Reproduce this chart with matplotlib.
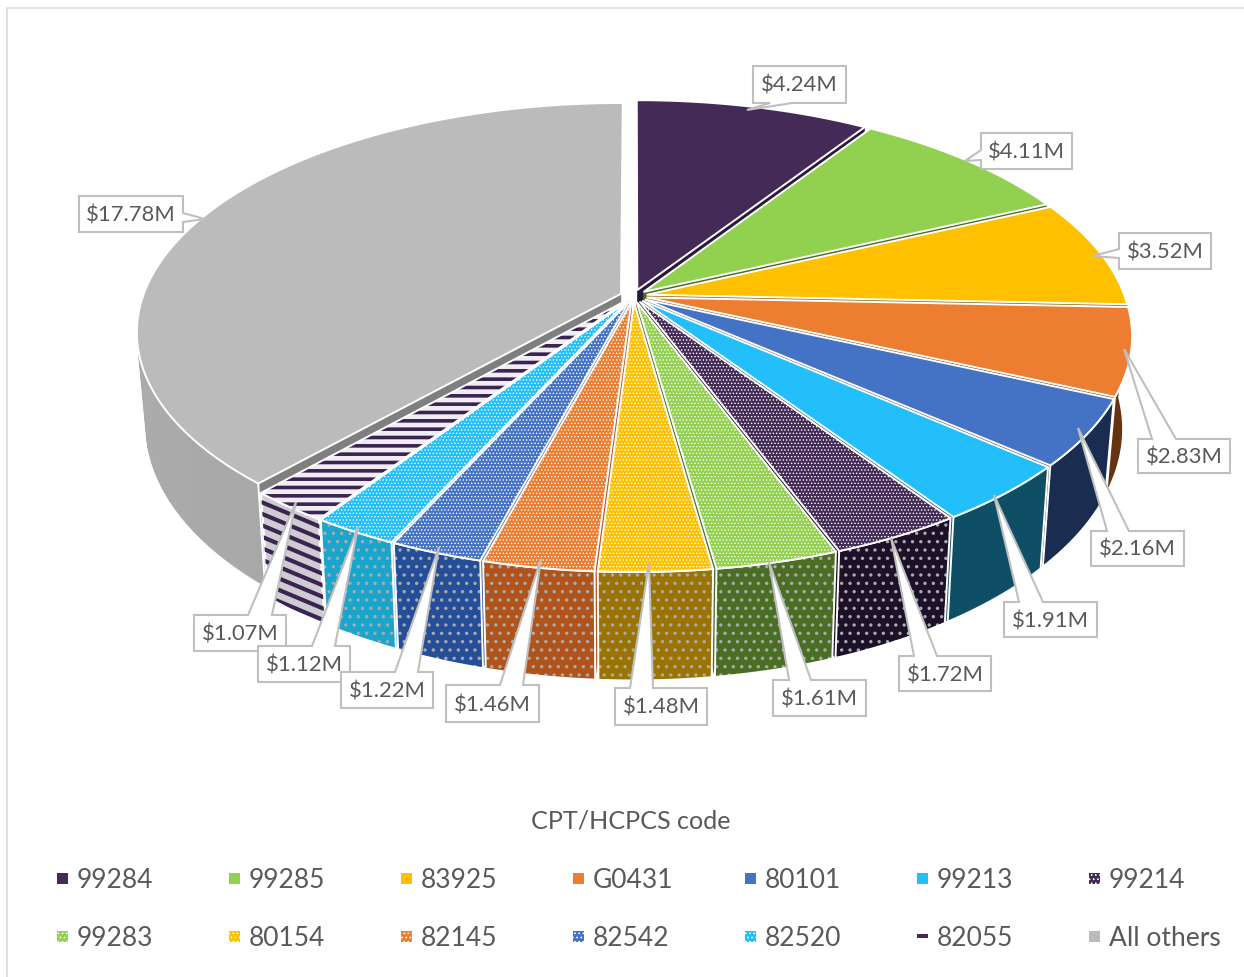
import matplotlib
matplotlib.use('Agg')
import matplotlib.pyplot as plt
from matplotlib.collections import LineCollection
from matplotlib.patches import Polygon, Rectangle
import numpy as np

plt.rcParams['font.family'] = ['Lato', 'DejaVu Sans']

# values in $M, clockwise from 12 o'clock
codes = ['99284', '99285', '83925', 'G0431', '80101', '99213', '99214',
         '99283', '80154', '82145', '82542', '82520', '82055', 'All others']
costs = [4.24, 4.11, 3.52, 2.83, 2.16, 1.91, 1.72, 1.61, 1.48, 1.46, 1.22, 1.12, 1.07, 17.78]
labels = ['$4.24M', '$4.11M', '$3.52M', '$2.83M', '$2.16M', '$1.91M', '$1.72M',
          '$1.61M', '$1.48M', '$1.46M', '$1.22M', '$1.12M', '$1.07M', '$17.78M']

top_colors = ['#442A57', '#92D050', '#FFC000', '#ED7D31', '#4472C4', '#22BFFB', '#442A57',
              '#92D050', '#FFC000', '#ED7D31', '#4472C4', '#22BFFB', '#F1ECF4', '#BBBBBB']
wall_colors = ['#2A1A38', '#4A6A26', '#8F6C00', '#63340F', '#1A2C50', '#0F4F66', '#1C1128',
               '#4B6E25', '#9A7300', '#B0541B', '#254E99', '#1AA5CC', '#CFCBD3', '#A8A8A8']
# hatch per slice
top_hatch = [None] * 6 + ['.....'] * 6 + ['--', None]
hatch_col = ['white'] * 12 + ['#3A2450', 'white']
wall_hatch = [None] * 6 + ['..'] * 6 + [None, None]
wall_hatch_col = ['#ABABAB'] * 12 + ['#3A2450', 'white']

# callout layout: box (x0, y0, x1, y1), side, base a, base b, tip (x, y)
callouts = [
    ((753, 66, 846, 103), 'bottom', 770, 792, (747, 110)),
    ((981, 133, 1072, 169), 'left', 150, 160, (965, 161)),
    ((1119, 233, 1211, 269), 'left', 249, 258, (1093, 256)),
    ((1138, 439, 1230, 473), 'top', 1152, 1176, (1124, 349)),
    ((1091, 531, 1184, 566), 'top', 1107, 1129, (1078, 428)),
    ((1004, 602, 1097, 637), 'top', 1019, 1043, (994, 495)),
    ((899, 656, 991, 691), 'top', 914, 937, (891, 538)),
    ((773, 680, 866, 716), 'top', 789, 811, (769, 562)),
    ((615, 688, 707, 725), 'top', 630, 653, (649, 563)),
    ((446, 685, 539, 722), 'top', 500, 523, (541, 559)),
    ((341, 672, 433, 708), 'top', 395, 418, (439, 547)),
    ((258, 646, 350, 682), 'top', 312, 335, (358, 527)),
    ((194, 615, 286, 651), 'top', 248, 272, (296, 502)),
    ((79, 196, 183, 232), 'right', 213, 222, (205, 219)),
]
callout_order = [0, 1, 2, 3, 4, 5, 6, 7, 8, 9, 12, 11, 10, 13]

legend_x = [57, 229, 401, 573, 745, 917, 1089]
legend_y = [878, 936]

# perspective of the pie
CX, CY = 633.5, 296
RX, RY = 478, 223
K = 0.165
DEPTH = 90
EXPLODE = 0.028


class HatchPoly(Polygon):
    def __init__(self, *args, hatch_lw=0.6, **kwargs):
        self.hatch_lw = hatch_lw
        with matplotlib.rc_context({'hatch.linewidth': hatch_lw}):
            super().__init__(*args, **kwargs)

    def draw(self, renderer):
        with matplotlib.rc_context({'hatch.linewidth': self.hatch_lw}):
            super().draw(renderer)


def project(x, y, drop=0.0):
    s = 1 / (1 + K * y)
    shrink = 1 - 0.018 * (drop > 0)
    return np.column_stack([CX + RX * x * s * shrink, CY - RY * y * s + drop * s])


def shape(ax, pts, face, hatch=None, hcol='white', edge='white', lw=1.4, hatch_lw=0.6):
    if hatch:
        ax.add_patch(HatchPoly(pts, closed=True, facecolor=face, edgecolor=hcol, hatch=hatch,
                               linewidth=0, hatch_lw=hatch_lw))
        ax.add_patch(Polygon(pts, closed=True, facecolor='none', edgecolor=edge, linewidth=lw))
    else:
        ax.add_patch(Polygon(pts, closed=True, facecolor=face, edgecolor=edge, linewidth=lw))


def slanted_stripes(ax, wall):
    # the striped slice's wall has its lines running downhill, a hatch can't do that angle
    clip = Polygon(wall, closed=True, transform=ax.transData)
    x0, x1 = wall[:, 0].min(), wall[:, 0].max()
    y0, y1 = wall[:, 1].min() - 60, wall[:, 1].max() + 10
    segs = [[(x0, y), (x1, y + 0.42 * (x1 - x0))] for y in np.arange(y0, y1, 11.5)]
    lines = LineCollection(segs, colors='#3A2450', linewidths=3.0)
    ax.add_collection(lines)
    lines.set_clip_path(clip)


def draw_slice(ax, i, a0, a1):
    mid = (a0 + a1) / 2
    ox, oy = EXPLODE * np.sin(mid), EXPLODE * np.cos(mid)
    t = np.linspace(a0, a1, 80)
    ax_x, ax_y = np.sin(t) + ox, np.cos(t) + oy
    arc_top = project(ax_x, ax_y)
    arc_low = project(ax_x, ax_y, DEPTH)
    apex_top = project(np.array([ox]), np.array([oy]))
    apex_low = project(np.array([ox]), np.array([oy]), DEPTH)
    top_lw = 2.6 if i == 12 else 0.6
    wall_lw = 1.2

    def radial_walls():
        # seen through the gaps between slices; the ends at 12 o'clock have no width
        radial = wall_colors[i] if i != 13 else '#7F7F7F'
        for end in (0, -1):
            if (i == 0 and end == 0) or (i == 13 and end == -1):
                continue
            quad = np.vstack([apex_top, arc_top[end], arc_low[end], apex_low])
            shape(ax, quad, radial, edge=radial, lw=0.3)

    back_slice = np.cos(mid) > 0
    if not back_slice:
        radial_walls()

    # outer wall
    wall = np.vstack([arc_top, arc_low[::-1]])
    if codes[i] == 'All others':
        shades = np.linspace(0.66, 0.71, 79)
        for j in range(79):
            if ax_y[j] > -0.24:
                continue
            quad = np.vstack([arc_top[j], arc_top[j + 1], arc_low[j + 1], arc_low[j]])
            g = str(shades[j])
            ax.add_patch(Polygon(quad, closed=True, facecolor=g, edgecolor=g, linewidth=0.6))
        ax.plot([arc_top[0, 0], arc_low[0, 0]], [arc_top[0, 1], arc_low[0, 1]], color='white', lw=1.4)
    else:
        shape(ax, wall, wall_colors[i], wall_hatch[i], wall_hatch_col[i], lw=1.4, hatch_lw=wall_lw)
        if codes[i] == '82055':
            slanted_stripes(ax, wall)
            ax.add_patch(Polygon(wall, closed=True, facecolor='none', edgecolor='white', linewidth=1.4))

    if back_slice:
        radial_walls()

    # top face
    top = np.vstack([apex_top, arc_top])
    shape(ax, top, top_colors[i], top_hatch[i], hatch_col[i], lw=1.4, hatch_lw=top_lw)


def callout(ax, box, side, b0, b1, tip, text):
    x0, y0, x1, y1 = box
    if side == 'top':
        pts = [(x0, y0), (b0, y0), tip, (b1, y0), (x1, y0), (x1, y1), (x0, y1)]
    elif side == 'bottom':
        pts = [(x0, y0), (x1, y0), (x1, y1), (b1, y1), tip, (b0, y1), (x0, y1)]
    elif side == 'left':
        pts = [(x0, y0), (x1, y0), (x1, y1), (x0, y1), (x0, b1), tip, (x0, b0)]
    else:
        pts = [(x0, y0), (x1, y0), (x1, b0), tip, (x1, b1), (x1, y1), (x0, y1)]
    ax.add_patch(Polygon(pts, closed=True, facecolor='white', edgecolor='#BFBFBF',
                         linewidth=1.5, joinstyle='miter', zorder=5))
    ax.text((x0 + x1) / 2, (y0 + y1) / 2 + 1.5, text, ha='center', va='center',
            fontsize=15.8, color='#595959', zorder=6)


def gen_chart():
    fig = plt.figure(figsize=(12.44, 9.77), dpi=100)
    ax = fig.add_axes([0, 0, 1, 1])
    ax.set_xlim(0, 1244)
    ax.set_ylim(977, 0)
    ax.axis('off')

    # chart frame
    ax.add_patch(Rectangle((7, 8), 1260, 990, facecolor='white', edgecolor='#D9D9D9', linewidth=1.2))

    fractions = np.array(costs) / np.sum(costs)
    edges = np.concatenate([[0], np.cumsum(fractions)]) * 2 * np.pi
    mids = (edges[:-1] + edges[1:]) / 2
    for i in np.argsort(-np.cos(mids)):
        draw_slice(ax, i, edges[i], edges[i + 1])

    for n in callout_order:
        box, side, b0, b1, tip = callouts[n]
        callout(ax, box, side, b0, b1, tip, labels[n])

    # legend
    ax.text(631, 821, 'CPT/HCPCS code', ha='center', va='center', fontsize=18.1, color='#595959')
    for i, code in enumerate(codes):
        x = legend_x[i % 7]
        y = legend_y[i // 7]
        if code == '82055':
            ax.add_patch(Rectangle((x, y - 2), 11, 4, facecolor='#442A57', edgecolor='none'))
        elif top_hatch[i]:
            ax.add_patch(HatchPoly([(x, y - 5.5), (x + 11, y - 5.5), (x + 11, y + 5.5), (x, y + 5.5)],
                                   closed=True, facecolor=top_colors[i], edgecolor='white',
                                   hatch='....', linewidth=0, hatch_lw=0.7))
        else:
            ax.add_patch(Rectangle((x, y - 5.5), 11, 11, facecolor=top_colors[i], edgecolor='none'))
        ax.text(x + 20, y + 2, code, ha='left', va='center', fontsize=19, color='#595959')

    plt.savefig('out.png', dpi=100)
    plt.close()


if __name__ == '__main__':
    gen_chart()
